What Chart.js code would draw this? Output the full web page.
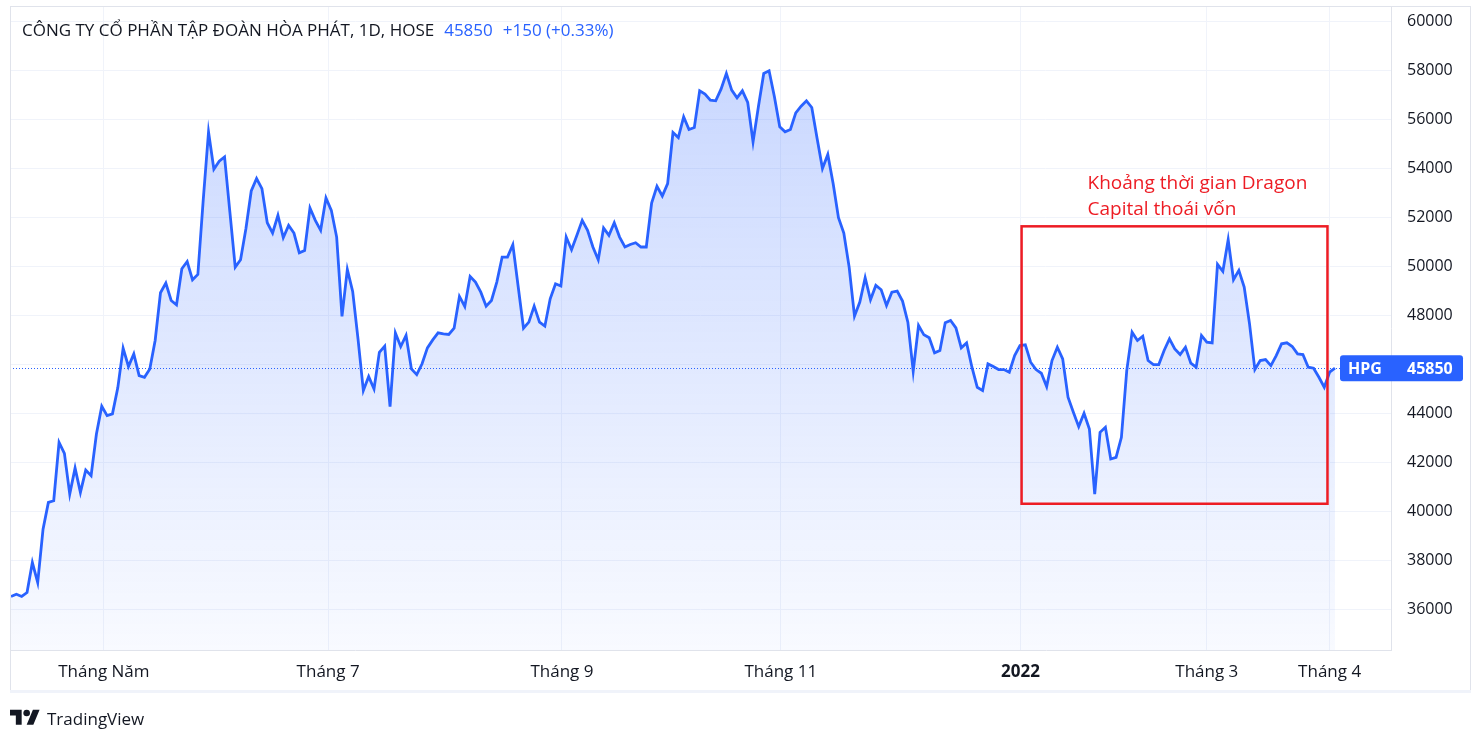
<!DOCTYPE html>
<html>
<head>
<meta charset="utf-8">
<script src="https://cdn.jsdelivr.net/npm/chart.js@4.4.1/dist/chart.umd.min.js"></script>
<style>
  body { margin: 0; background: #fff; font-family: "Open Sans", sans-serif; }
  #wrap { position: relative; width: 1484px; height: 744px; }
  #chart { position: absolute; left: 0; top: 0; }
  #title { position: absolute; left: 22px; top: 18px; font-size: 17px; color: #131722; white-space: nowrap; }
  #title .blue { color: #2962ff; margin-left: 10px; }
  #footer { position: absolute; left: 10px; top: 706px; font-size: 17px; color: #131722; display: flex; align-items: center; }
  #footer svg { margin-right: 7px; }
</style>
</head>
<body>
<div id="wrap">
  <canvas id="chart" width="1484" height="744"></canvas>
  <div id="title">CÔNG TY CỔ PHẦN TẬP ĐOÀN HÒA PHÁT, 1D, HOSE<span class="blue">45850</span><span class="blue">+150 (+0.33%)</span></div>
  <div id="footer">
    <svg width="30" height="24" viewBox="0 0 36 28"><path d="M14 22H7V11H0V4h14v18zM28 22h-8l7.5-18h8L28 22z" fill="#131722"/><circle cx="20" cy="8" r="4" fill="#131722"/></svg>
    <span>TradingView</span>
  </div>
</div>
<script>
// daily closes, HPG (HOSE), early April 2021 -> early April 2022
const prices = [
  36550, 36640, 36550, 36710, 37930, 37115, 39290, 40380, 40450, 42830,
  42380, 40720, 41780, 40790, 41700, 41470, 43170, 44300, 43920, 43990,
  45050, 46665, 45920, 46435, 45550, 45480, 45820, 46980, 48925, 49320,
  48610, 48435, 49905, 50200, 49455, 49670, 52690, 55480, 53960, 54285,
  54460, 52215, 49970, 50270, 51535, 53075, 53580, 53170, 51780, 51360,
  52080, 51170, 51670, 51360, 50555, 50650, 52380, 51875, 51470, 52790,
  52285, 51195, 47960, 49875, 48980, 47045, 44940, 45510, 45005, 46500,
  46750, 44285, 47290, 46735, 47185, 45820, 45590, 46030, 46680, 47005,
  47290, 47250, 47225, 47480, 48775, 48365, 49590, 49360, 48950, 48380,
  48610, 49360, 50380, 50380, 50885, 49180, 47480, 47730, 48380, 47730,
  47565, 48680, 49290, 49200, 51195, 50680, 51265, 51875, 51470, 50790,
  50270, 51565, 51265, 51780, 51195, 50790, 50895, 50965, 50790, 50790,
  52585, 53265, 52870, 53375, 55455, 55250, 56095, 55580, 55660, 57156,
  57020, 56775, 56748, 57224, 57864, 57183, 56870, 57156, 56680, 55075,
  56503, 57864, 57972, 56911, 55687, 55483, 55578, 56258, 56530, 56748,
  56476, 55211, 53986, 54558, 53374, 51986, 51360, 49973, 47972, 48545,
  49537, 48640, 49225, 49048, 48408, 48952, 48993, 48585, 47728, 45728,
  47592, 47211, 47089, 46476, 46572, 47700, 47796, 47497, 46680, 46884,
  45891, 45075, 44939, 46027, 45918, 45796, 45796, 45687, 46367, 46775,
  46803, 46095, 45796, 45646, 45102, 46163, 46707, 46231, 44667, 44054,
  43470, 44014, 43374, 40721, 43238, 43442, 42150, 42218, 43034, 45755,
  47320, 46979, 47156, 46163, 46000, 46000, 46571, 47048, 46639, 46408,
  46707, 46054, 45891, 47184, 46912, 46884, 50082, 49796, 51088, 49456,
  49837, 49157, 47660, 45796, 46163, 46204, 45959, 46367, 46843, 46884,
  46735, 46435, 46408, 45891, 45850, 45483, 45075, 45687, 45850
];

// first trading session of each labelled month (bar index)
const monthTickPos = [17.4, 59.4, 103.2, 144.2, 189.1, 224, 247];
const monthLabels = ['Tháng Năm', 'Tháng 7', 'Tháng 9', 'Tháng 11', '2022', 'Tháng 3', 'Tháng 4'];
const priceTicks = [36000, 38000, 40000, 42000, 44000, 46000, 48000, 50000, 52000, 54000, 56000, 58000, 60000];

const symbol = 'HPG';
const lastPrice = 45850;

// Dragon Capital divestment window (bar index / price range)
const noteLines = ['Khoảng thời gian Dragon', 'Capital thoái vốn'];
const noteFrom = 189.3;
const noteTo = 246.6;
const noteHigh = 51633;
const noteLow = 40327;

const FONT = '"Open Sans", sans-serif';
const BLUE = '#2962ff';

const extras = {
  id: 'extras',
  afterDatasetsDraw(chart) {
    const { ctx, chartArea, scales } = chart;
    const x = scales.x, y = scales.y;

    // last price dotted line
    const py = Math.round(y.getPixelForValue(lastPrice)) + 0.5;
    ctx.save();
    ctx.strokeStyle = BLUE;
    ctx.lineWidth = 1;
    ctx.setLineDash([1, 2]);
    ctx.beginPath();
    ctx.moveTo(chartArea.left, py);
    ctx.lineTo(chartArea.right, py);
    ctx.stroke();
    ctx.restore();

    // red annotation box
    const bx1 = x.getPixelForValue(noteFrom), bx2 = x.getPixelForValue(noteTo);
    const by1 = y.getPixelForValue(noteHigh), by2 = y.getPixelForValue(noteLow);
    ctx.save();
    ctx.strokeStyle = '#ed1c24';
    ctx.lineWidth = 2.5;
    ctx.strokeRect(bx1, by1, bx2 - bx1, by2 - by1);
    ctx.fillStyle = '#ed1c24';
    ctx.font = '19px ' + FONT;
    ctx.textBaseline = 'middle';
    ctx.fillText(noteLines[0], bx1 + 66, by1 - 43);
    ctx.fillText(noteLines[1], bx1 + 66, by1 - 17);
    ctx.restore();
  },
  afterDraw(chart) {
    const { ctx, scales } = chart;
    const y = scales.y;

    // price label on the axis
    const py = y.getPixelForValue(lastPrice);
    ctx.save();
    ctx.fillStyle = BLUE;
    ctx.beginPath();
    ctx.roundRect(1340, py - 13, 123, 26, 3);
    ctx.fill();
    ctx.fillStyle = '#fff';
    ctx.font = 'bold 16px ' + FONT;
    ctx.textBaseline = 'middle';
    ctx.fillText(symbol, 1348, py + 1);
    ctx.fillText(String(lastPrice), 1407, py + 1);
    ctx.restore();

    // widget frame
    ctx.save();
    ctx.strokeStyle = '#e0e3eb';
    ctx.lineWidth = 1;
    ctx.strokeRect(10.5, 6.5, 1460, 684);
    ctx.strokeStyle = '#f0f3fa';
    ctx.lineWidth = 3;
    ctx.beginPath();
    ctx.moveTo(10, 691.5);
    ctx.lineTo(1471, 691.5);
    ctx.stroke();
    ctx.restore();
  }
};

new Chart(document.getElementById('chart'), {
  type: 'line',
  data: {
    datasets: [{
      data: prices.map((v, i) => ({ x: i, y: v })),
      borderColor: BLUE,
      borderWidth: 2.8,
      pointRadius: 0,
      tension: 0,
      fill: 'start',
      backgroundColor: (c) => {
        const area = c.chart.chartArea;
        if (!area) return 'rgba(41,98,255,0.15)';
        const g = c.chart.ctx.createLinearGradient(0, area.top + 60, 0, area.bottom);
        g.addColorStop(0, 'rgba(41,98,255,0.25)');
        g.addColorStop(1, 'rgba(41,98,255,0.03)');
        return g;
      }
    }]
  },
  options: {
    responsive: false,
    animation: false,
    devicePixelRatio: 1,
    layout: { padding: { left: 10, top: 6, right: 14, bottom: 53 } },
    plugins: { legend: { display: false }, tooltip: { enabled: false } },
    scales: {
      x: {
        type: 'linear',
        min: -0.19,
        max: 258.5,
        afterBuildTicks: (s) => { s.ticks = monthTickPos.map(v => ({ value: v })); },
        afterFit: (s) => { s.height = 41; s.paddingLeft = 0; s.paddingRight = 0; },
        grid: { color: '#f0f3fa', drawTicks: false },
        border: { color: '#e0e3eb' },
        ticks: {
          autoSkip: false,
          maxRotation: 0,
          padding: 12,
          color: '#131722',
          font: (c) => ({ family: FONT, size: 17, weight: c.index === 4 ? 'bold' : 'normal' }),
          callback: (v, i) => monthLabels[i]
        }
      },
      y: {
        position: 'right',
        min: 34367,
        max: 60612,
        afterBuildTicks: (s) => { s.ticks = priceTicks.map(v => ({ value: v })); },
        afterFit: (s) => { s.width = 79; s.paddingTop = 0; s.paddingBottom = 0; },
        grid: { color: '#f0f3fa', drawTicks: false },
        border: { color: '#e0e3eb' },
        ticks: {
          padding: 16,
          color: '#131722',
          font: { family: FONT, size: 16 },
          callback: (v) => String(v)
        }
      }
    }
  },
  plugins: [extras]
});
</script>
</body>
</html>
